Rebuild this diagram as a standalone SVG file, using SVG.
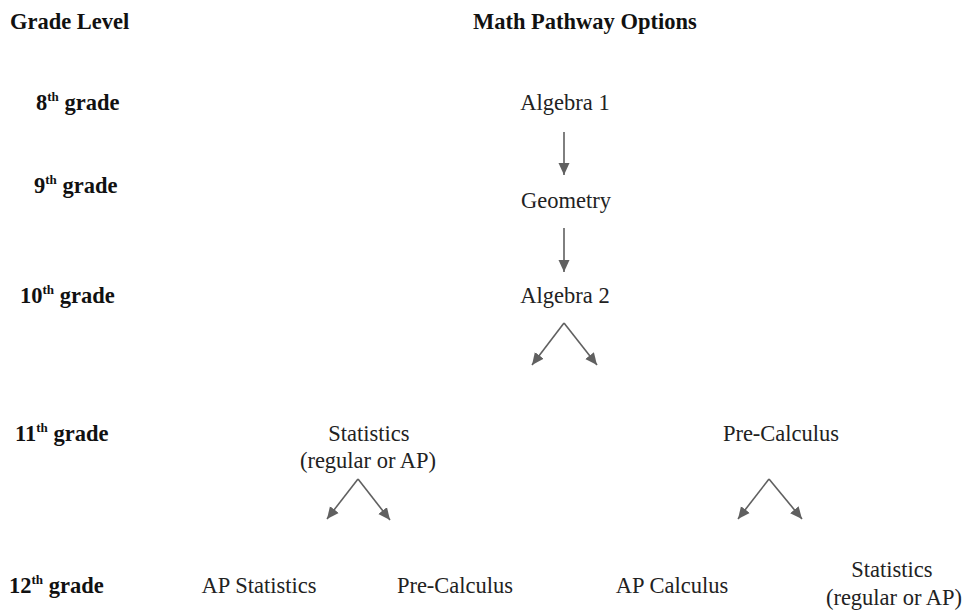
<svg xmlns="http://www.w3.org/2000/svg" width="964" height="612" viewBox="0 0 964 612">
<defs>
<style>
.h{font-family:"Liberation Serif","Times New Roman",serif;font-weight:bold;font-size:22.5px;fill:#111}
.g{font-family:"Liberation Serif","Times New Roman",serif;font-weight:bold;font-size:22.5px;fill:#111}
.n{font-family:"Liberation Serif","Times New Roman",serif;font-size:22.5px;fill:#222;text-anchor:middle}
.sup{font-size:13px}
.c line{stroke:#606060;stroke-width:1.6;fill:none}
</style>
<marker id="ah" markerUnits="userSpaceOnUse" markerWidth="13" markerHeight="12" refX="12" refY="6" orient="auto" viewBox="0 0 13 12">
<path d="M0,0.5 L12,6 L0,11.5 z" fill="#606060"/>
</marker>
</defs>
<rect width="964" height="612" fill="#fff"/>
<g id="headers">
<text class="h" x="10" y="29">Grade Level</text>
<text class="h" x="473" y="29">Math Pathway Options</text>
</g>
<g id="grades">
<text class="g" x="36" y="110">8<tspan class="sup" dy="-9">th</tspan><tspan dy="9"> grade</tspan></text>
<text class="g" x="34" y="193">9<tspan class="sup" dy="-9">th</tspan><tspan dy="9"> grade</tspan></text>
<text class="g" x="20" y="303">10<tspan class="sup" dy="-9">th</tspan><tspan dy="9"> grade</tspan></text>
<text class="g" x="15" y="441">11<tspan class="sup" dy="-9">th</tspan><tspan dy="9"> grade</tspan></text>
<text class="g" x="9" y="593">12<tspan class="sup" dy="-9">th</tspan><tspan dy="9"> grade</tspan></text>
</g>
<g id="algebra1"><text class="n" x="565" y="110">Algebra 1</text></g>
<g id="geometry"><text class="n" x="566" y="208">Geometry</text></g>
<g id="algebra2"><text class="n" x="565" y="303">Algebra 2</text></g>
<g id="statistics11"><text class="n" x="369" y="441">Statistics</text><text class="n" x="368" y="468">(regular or AP)</text></g>
<g id="precalc11"><text class="n" x="781" y="441">Pre-Calculus</text></g>
<g id="apstats12"><text class="n" x="259" y="593">AP Statistics</text></g>
<g id="precalc12"><text class="n" x="455" y="593">Pre-Calculus</text></g>
<g id="apcalc12"><text class="n" x="672" y="593">AP Calculus</text></g>
<g id="statistics12"><text class="n" x="892" y="577">Statistics</text><text class="n" x="894" y="605">(regular or AP)</text></g>
<g id="connectors" class="c">
<line x1="564" y1="132" x2="564" y2="175" marker-end="url(#ah)"/>
<line x1="564" y1="228" x2="564" y2="272" marker-end="url(#ah)"/>
<line x1="564" y1="323" x2="532" y2="365" marker-end="url(#ah)"/>
<line x1="564" y1="323" x2="597" y2="365" marker-end="url(#ah)"/>
<line x1="358" y1="479" x2="327" y2="519" marker-end="url(#ah)"/>
<line x1="358" y1="479" x2="390" y2="520" marker-end="url(#ah)"/>
<line x1="769" y1="479" x2="738" y2="519" marker-end="url(#ah)"/>
<line x1="769" y1="479" x2="802" y2="519" marker-end="url(#ah)"/>
</g>
</svg>
